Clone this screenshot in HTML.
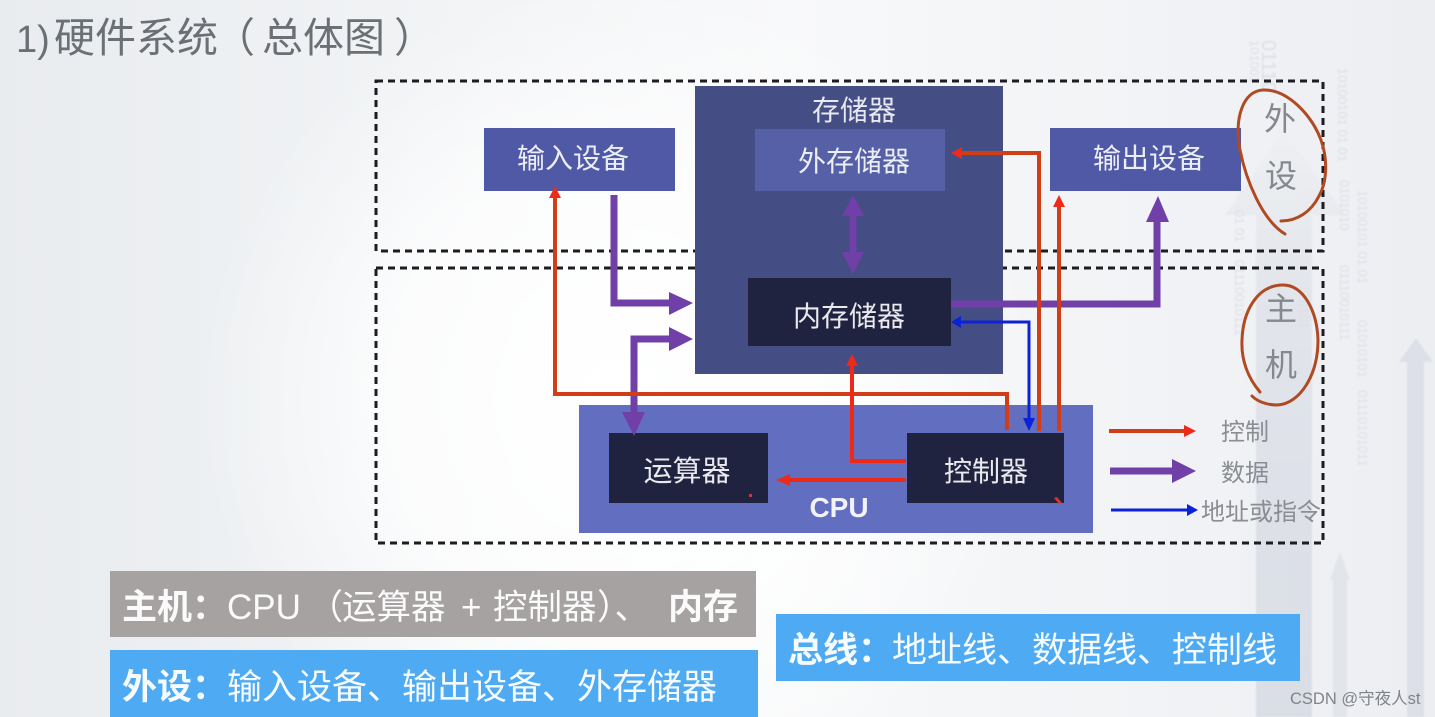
<!DOCTYPE html>
<html><head><meta charset="utf-8">
<style>
html,body{margin:0;padding:0;background:#fff}
svg{display:block}
text{font-family:"Liberation Sans","Noto Sans CJK SC",sans-serif}
</style></head><body>
<svg width="1435" height="717" viewBox="0 0 1435 717" xmlns="http://www.w3.org/2000/svg">
<defs>
<linearGradient id="bg" x1="0" y1="0" x2="1" y2="0">
<stop offset="0" stop-color="#e9ecef"/><stop offset=".3" stop-color="#f1f3f5"/><stop offset=".55" stop-color="#f8f9fa"/><stop offset="1" stop-color="#eceef2"/>
</linearGradient>
<radialGradient id="glow" cx="620" cy="400" r="420" gradientUnits="userSpaceOnUse">
<stop offset="0" stop-color="#fff" stop-opacity="1"/><stop offset=".55" stop-color="#fff" stop-opacity=".75"/><stop offset="1" stop-color="#fff" stop-opacity="0"/>
</radialGradient>
<linearGradient id="wm" x1="0" y1="0" x2="0" y2="1">
<stop offset="0" stop-color="#eef0f3"/><stop offset=".3" stop-color="#dfe2e9"/><stop offset="1" stop-color="#d5d9e3"/>
</linearGradient>
<filter id="b"><feGaussianBlur stdDeviation=".7"/></filter>
<filter id="b2"><feGaussianBlur stdDeviation=".35"/></filter>
</defs>
<rect width="1435" height="717" fill="url(#bg)"/>
<rect width="1435" height="717" fill="url(#glow)"/>

<!-- watermark arrows -->
<polygon points="1225,215 1284,130 1345,215 1312,215 1312,717 1256,717 1256,215" fill="url(#wm)" opacity=".8" filter="url(#b)"/>
<polygon points="1330,580 1340,552 1350,580 1347,580 1347,717 1333,717 1333,580" fill="#e2e5ea" filter="url(#b)"/>
<polygon points="1399,362 1416,338 1433,362 1424,362 1424,717 1407,717 1407,362" fill="#dde0e8" filter="url(#b)"/>
<g fill="#dcdfe5" font-size="13" filter="url(#b)">
<text transform="translate(1262,40) rotate(90)" font-size="20">01110</text>
<text transform="translate(1338,68) rotate(90)">10100101 01 01</text>
<text transform="translate(1358,190) rotate(90)">10100101 01 01</text>
<text transform="translate(1358,320) rotate(90)">01010101</text>
<text transform="translate(1358,390) rotate(90)">01110101011</text>
<text transform="translate(1340,180) rotate(90)">0101010</text>
<text transform="translate(1340,265) rotate(90)">01110010111</text>
<text transform="translate(1250,40) rotate(90)">101001</text>
<text transform="translate(1235,210) rotate(90)">01 01</text>
<text transform="translate(1235,260) rotate(90)">01110010111</text>
<text transform="translate(1300,300) rotate(90)">0101</text>
</g>

<!-- title -->
<g font-size="41" fill="#6b6f73" filter="url(#b2)">
<text x="16" y="52" font-size="38">1)</text>
<text x="54" y="52">硬件系统</text>
<text x="214" y="52">（</text>
<text x="262" y="52">总体图</text>
<text x="394" y="52">）</text>
</g>

<!-- dashed frames -->
<g fill="none" stroke="#1a1c20" stroke-width="3" stroke-dasharray="7 5" filter="url(#b2)">
<rect x="376" y="81" width="947" height="170"/>
<rect x="376" y="268" width="947" height="275"/>
</g>

<!-- memory -->
<rect x="695" y="86" width="308" height="288" fill="#454d85"/>
<text x="854" y="120" text-anchor="middle" font-size="28" fill="#e8e9f0" filter="url(#b2)">存储器</text>
<rect x="755" y="129" width="190" height="62" fill="#5560a6"/>
<text x="854" y="171" text-anchor="middle" font-size="28" fill="#eceef6" filter="url(#b2)">外存储器</text>
<rect x="748" y="278" width="203" height="68" fill="#20233f"/>
<text x="849" y="326" text-anchor="middle" font-size="28" fill="#e9e9ee" filter="url(#b2)">内存储器</text>

<!-- input / output -->
<rect x="484" y="128" width="191" height="63" fill="#5059a6"/>
<text x="573" y="168" text-anchor="middle" font-size="28" fill="#eceef6" filter="url(#b2)">输入设备</text>
<rect x="1050" y="128" width="191" height="63" fill="#5059a6"/>
<text x="1149" y="168" text-anchor="middle" font-size="28" fill="#eceef6" filter="url(#b2)">输出设备</text>

<!-- CPU -->
<rect x="579" y="405" width="514" height="128" fill="#626fc0"/>
<rect x="609" y="433" width="159" height="70" fill="#20233f"/>
<text x="687" y="481" text-anchor="middle" font-size="29" fill="#e9e9ee" filter="url(#b2)">运算器</text>
<rect x="907" y="433" width="157" height="70" fill="#20233f"/>
<text x="986" y="481" text-anchor="middle" font-size="28" fill="#e9e9ee" filter="url(#b2)">控制器</text>
<text x="839" y="517" text-anchor="middle" font-size="28" font-weight="bold" fill="#f1f2fa" filter="url(#b2)">CPU</text>
<rect x="749" y="494" width="3" height="3" fill="#d8362a"/>
<polygon points="1054,498 1057,497 1062,503 1059,504" fill="#d8362a"/>

<!-- purple connectors -->
<g fill="none" stroke="#7040a8" stroke-width="7" filter="url(#b2)">
<path d="M614 195V303H672"/>
<path d="M672 339H634V412"/>
<path d="M853 215V252"/>
<path d="M951 304H1157V220"/>
<path d="M1110 471H1172"/>
</g>
<g fill="#7040a8">
<polygon points="669,292 693,303 669,315"/>
<polygon points="669,327 693,339 669,351"/>
<polygon points="622,412 645,412 634,436"/>
<polygon points="842,216 853,195 864,216"/>
<polygon points="842,252 853,274 864,252"/>
<polygon points="1146,222 1158,196 1169,222"/>
<polygon points="1172,459 1196,471 1172,483"/>
</g>

<!-- red / orange connectors -->
<g fill="none" stroke="#d13c12" stroke-width="4" filter="url(#b2)">
<path d="M555 195V394H1007V430"/>
<path d="M1039 431V153H958"/>
<path d="M1059 431V205"/>
<path d="M1109 431H1186"/>
</g>
<g fill="none" stroke="#ee2a18" stroke-width="4" filter="url(#b2)">
<path d="M906 461H852V365"/>
<path d="M906 480H788"/>
</g>
<g fill="#ee2a18">
<polygon points="549,198 555,186 561,198"/>
<polygon points="962,147 951,153 962,159"/>
<polygon points="1053,207 1059,195 1065,207"/>
<polygon points="846,366 852,354 858,366"/>
<polygon points="790,474 776,480 790,486"/>
<polygon points="1184,425 1196,431 1184,437"/>
</g>

<!-- blue connectors -->
<g fill="none" stroke="#0a22d8" stroke-width="3" filter="url(#b2)">
<path d="M960 322H1029V418"/>
<path d="M1111 510H1188"/>
</g>
<g fill="#0a22d8">
<polygon points="961,316 951,322 961,328"/>
<polygon points="1023,418 1029,431 1035,418"/>
<polygon points="1187,504 1198,510 1187,516"/>
</g>

<!-- legend -->
<g fill="#8a8d91" filter="url(#b2)">
<text x="1221" y="440" font-size="24">控制</text>
<text x="1221" y="481" font-size="24">数据</text>
<text x="1201" y="520" font-size="24">地址或指令</text>
</g>

<!-- handwritten -->
<text x="1280" y="130" text-anchor="middle" font-size="32" fill="#85888c" filter="url(#b2)">外</text>
<text x="1281" y="187" text-anchor="middle" font-size="32" fill="#85888c" filter="url(#b2)">设</text>
<text x="1281" y="320" text-anchor="middle" font-size="32" fill="#85888c" filter="url(#b2)">主</text>
<text x="1281" y="376" text-anchor="middle" font-size="32" fill="#85888c" filter="url(#b2)">机</text>
<g fill="none" stroke="#b04a22" stroke-width="3" stroke-linecap="round" stroke-linejoin="round">
<path d="M1285 234C1262 220 1246 180 1240 150C1234 118 1243 91 1263 90C1287 89 1312 115 1321 140C1328 160 1327 182 1319 196C1311 212 1297 221 1281 221"/>
<path d="M1260 392C1248 378 1241 360 1242 340C1243 310 1258 285 1283 285C1303 285 1317 310 1318 340C1318 375 1300 404 1277 405C1266 405 1257 401 1252 396"/>
</g>

<!-- bottom boxes -->
<rect x="110" y="571" width="646" height="66" fill="#a5a2a1"/>
<g font-size="35" fill="#fbfbfb" filter="url(#b2)">
<text x="122" y="619" font-weight="bold">主机：</text>
<text x="227" y="619">CPU</text>
<text x="308" y="619">（</text>
<text x="342" y="619" font-size="34.5">运算器</text>
<text x="461" y="619">+</text>
<text x="493" y="619" font-size="34.5">控制器</text>
<text x="597" y="619">）、</text>
<text x="668" y="619" font-weight="bold">内存</text>
</g>
<rect x="110" y="650" width="648" height="67" fill="#4eaaf3"/>
<g font-size="35" fill="#f5fbff" filter="url(#b2)">
<text x="122" y="699" font-weight="bold">外设：</text>
<text x="227" y="699">输入设备、输出设备、外存储器</text>
</g>
<rect x="776" y="614" width="524" height="67" fill="#4eaaf3"/>
<g font-size="35" fill="#f5fbff" filter="url(#b2)">
<text x="788" y="662" font-weight="bold">总线：</text>
<text x="892" y="662">地址线、数据线、控制线</text>
</g>

<!-- watermark -->
<text x="1290" y="704" font-size="16.5" fill="#80848a">CSDN @守夜人st</text>
</svg>
</body></html>
